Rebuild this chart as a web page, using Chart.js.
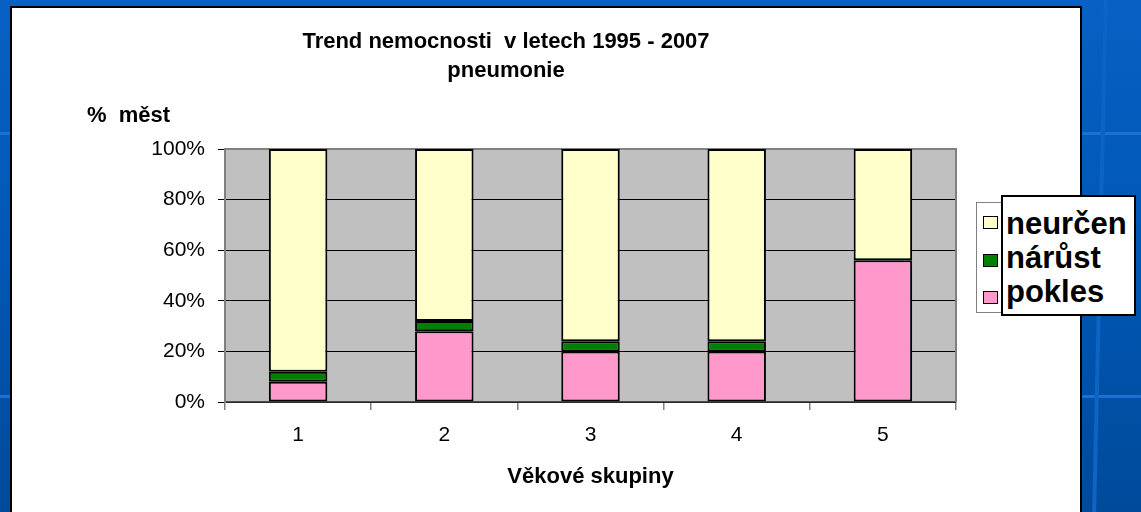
<!DOCTYPE html>
<html>
<head>
<meta charset="utf-8">
<script src="https://cdn.jsdelivr.net/npm/chart.js@4.4.1/dist/chart.umd.min.js"></script>
<style>
  html, body { margin: 0; padding: 0; }
  body {
    width: 1141px; height: 512px; overflow: hidden; position: relative;
    background: linear-gradient(180deg, #0760c4 0%, #0057b4 50%, #004a9a 100%);
    font-family: "Liberation Sans", Arial, sans-serif;
  }
  .pruh { position: absolute; left: 0; width: 1141px; height: 3px; background: #1c70d2; }
  .sikma { position: absolute; left: 1104px; top: -10px; width: 4px; height: 540px;
    background: #0c64c4; transform: rotate(1.3deg); transform-origin: top left; }
  #panel { position: absolute; left: 10px; top: 6px; width: 1072px; height: 520px;
    box-sizing: border-box; border: 2px solid #000; background: #fff; }
  #graf { position: absolute; left: 0; top: 0; }
  #legendaRam { position: absolute; left: 976px; top: 202px; width: 40px; height: 111px;
    box-sizing: border-box; border: 1px solid #808080; background: #fff; }
  .ctverec { position: absolute; left: 983px; width: 15px; height: 13px;
    box-sizing: border-box; border: 1px solid #000; }
  #legendaText { position: absolute; left: 1001px; top: 195px; width: 135px; height: 121px;
    box-sizing: border-box; border: 2px solid #000; background: #fff;
    padding: 10px 0 0 3px; font-weight: bold; font-size: 31px; line-height: 34px; color: #000; }
</style>
</head>
<body>
<div class="pruh" style="top:132px"></div>
<div class="pruh" style="top:395px"></div>
<div class="sikma"></div>
<div id="panel"></div>
<canvas id="graf" width="1141" height="512"></canvas>
<div id="legendaRam"></div>
<div id="legendaSwatche"></div>
<div id="legendaText"></div>
<script>
// data - procenta měst podle věkových skupin
const vekoveSkupiny = ['1', '2', '3', '4', '5'];
const pokles = [8, 28, 20, 20, 56];
const narust = [4, 4, 4, 4, 0];
const neurcen = [88, 68, 76, 76, 44];
const osaYHodnoty = [0, 20, 40, 60, 80, 100];

const nazvyRad = ['pokles', 'nárůst', 'neurčen'];
const barvyRad = ['#FF99CC', '#008000', '#FFFFCC'];

Chart.defaults.font.family = '"Liberation Sans", Arial, sans-serif';
Chart.defaults.color = '#000';

// šedá plocha grafu, rámeček a popisek osy Y
const plochaGrafu = {
  id: 'plochaGrafu',
  beforeDraw(chart) {
    const { ctx, chartArea: a } = chart;
    ctx.save();
    ctx.fillStyle = '#C0C0C0';
    ctx.fillRect(a.left, a.top, a.width, a.height);
    ctx.restore();
  },
  beforeDatasetsDraw(chart) {
    const { ctx, chartArea: a } = chart;
    ctx.save();
    ctx.strokeStyle = '#808080';
    ctx.lineWidth = 2;
    ctx.beginPath();
    ctx.moveTo(a.left, a.top);
    ctx.lineTo(a.right, a.top);
    ctx.lineTo(a.right, a.bottom);
    ctx.stroke();
    ctx.restore();
  },
  afterDraw(chart) {
    const { ctx, chartArea: a } = chart;
    ctx.save();
    ctx.font = 'bold 22px "Liberation Sans", Arial, sans-serif';
    ctx.fillStyle = '#000';
    ctx.textBaseline = 'alphabetic';
    ctx.fillText('%  měst', a.left - 138, a.top - 27);
    ctx.restore();
  }
};

const hodnotyRad = [pokles, narust, neurcen];

const graf = new Chart(document.getElementById('graf'), {
  type: 'bar',
  data: {
    labels: vekoveSkupiny,
    datasets: nazvyRad.map((nazev, i) => ({
      label: nazev,
      data: hodnotyRad[i],
      backgroundColor: barvyRad[i],
      borderColor: '#000',
      borderWidth: 2,
      borderSkipped: false,
      barPercentage: 0.4,
      categoryPercentage: 1
    }))
  },
  options: {
    responsive: false,
    animation: false,
    devicePixelRatio: 1,
    layout: { padding: { left: 56, right: 185, top: 7, bottom: 18 } },
    plugins: {
      legend: { display: false },
      tooltip: { enabled: false },
      title: {
        display: true,
        text: ['Trend nemocnosti  v letech 1995 - 2007', 'pneumonie'],
        font: { size: 22, weight: 'bold', lineHeight: 1.32 },
        color: '#000',
        padding: { top: 20, bottom: 64 }
      }
    },
    scales: {
      x: {
        stacked: true,
        afterFit: s => { s.height = 92; },
        grid: { drawOnChartArea: false, tickLength: 8, color: '#808080', lineWidth: 1.5 },
        border: { color: '#505050', width: 1.5 },
        ticks: { font: { size: 21 }, color: '#000', padding: 13 },
        title: {
          display: true,
          text: 'Věkové skupiny',
          font: { size: 22, weight: 'bold' },
          color: '#000',
          padding: { top: 0, bottom: 4 }
        }
      },
      y: {
        stacked: true,
        min: 0,
        max: 100,
        afterFit: s => { s.width = 169; },
        afterBuildTicks: s => { s.ticks = osaYHodnoty.map(v => ({ value: v })); },
        grid: {
          color: c => (c.tick && c.tick.value === 100 ? '#808080' : '#000'),
          tickColor: '#000',
          tickLength: 7,
          lineWidth: 1
        },
        border: { color: '#808080', width: 2 },
        ticks: {
          font: { size: 21 },
          color: '#000',
          padding: 13,
          callback: v => v + '%'
        }
      }
    }
  },
  plugins: [plochaGrafu]
});

// legenda - pořadí shora: neurčen, nárůst, pokles
const swatche = document.getElementById('legendaSwatche');
const legendaText = document.getElementById('legendaText');
let html = '';
let texty = '';
[...nazvyRad].reverse().forEach((nazev, i) => {
  const barva = barvyRad[nazvyRad.length - 1 - i];
  html += `<div class="ctverec" style="top:${216 + i * 37.5}px;background:${barva}"></div>`;
  texty += `<div>${nazev}</div>`;
});
swatche.innerHTML = html;
legendaText.innerHTML = texty;
</script>
</body>
</html>
